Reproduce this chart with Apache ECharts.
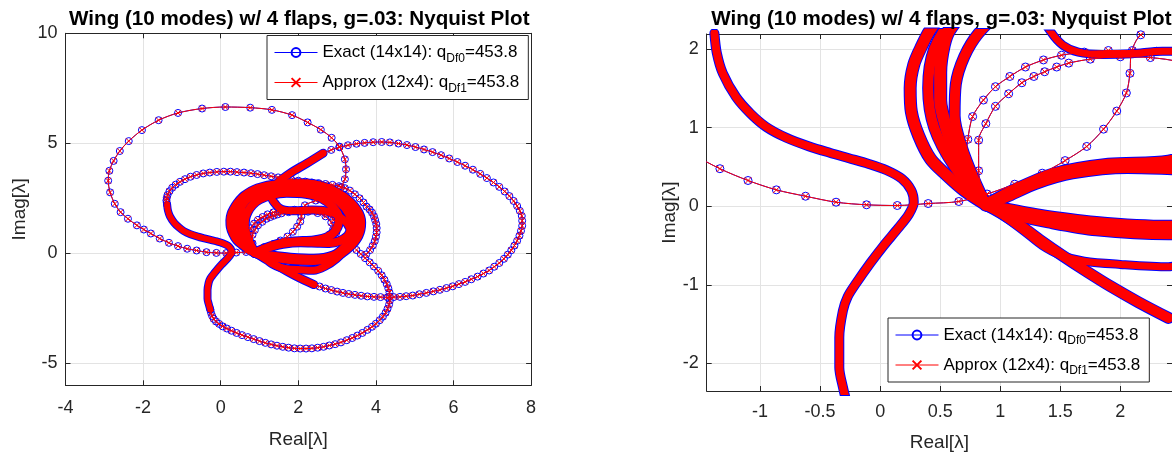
<!DOCTYPE html>
<html>
<head>
<meta charset="utf-8">
<title>Nyquist Plot</title>
<script src="https://cdn.jsdelivr.net/npm/echarts@6/dist/echarts.min.js"></script>
<style>
html, body { margin: 0; padding: 0; background: #fff; }
#chart { width: 1172px; height: 457px; }
</style>
</head>
<body>
<div id="chart"></div>
<script>
// curve points, [real, imag]
const loopA = [[3.10,3.00],[2.80,2.66],[2.45,2.40],[2.17,2.18],[2.09,1.94],[2.08,1.69],[2.05,1.44],[1.97,1.21],[1.86,0.98],[1.72,0.76],[1.54,0.58],[1.35,0.42],[1.12,0.28],[0.89,0.155],[0.655,0.06],[0.40,0.034],[0.143,0.009],[-0.113,0.018],[-0.367,0.051],[-0.621,0.127],[-0.864,0.208],[-1.10,0.327],[-1.334,0.477],[-1.57,0.67],[-1.80,0.90],[-1.98,1.08],[-2.16,1.27],[-2.39,1.57],[-2.58,1.87],[-2.73,2.25],[-2.85,2.77],[-2.90,3.30],[-2.87,3.75],[-2.76,4.20],[-2.60,4.65],[-2.37,5.10],[-2.03,5.60],[-1.60,6.05],[-1.10,6.38],[-0.48,6.58],[0.12,6.65],[0.76,6.62],[1.32,6.52],[1.84,6.28],[2.24,5.95],[2.58,5.62],[2.86,5.25],[3.06,4.85],[3.20,4.27],[3.23,3.82],[3.20,3.37],[3.10,3.00]];
const loopB = [[2.40,-1.42],[2.55,-1.51],[2.70,-1.60],[2.85,-1.67],[3.00,-1.74],[3.15,-1.80],[3.30,-1.85],[3.46,-1.89],[3.62,-1.93],[3.78,-1.96],[3.95,-1.98],[4.12,-1.99],[4.30,-2.00],[4.46,-1.99],[4.62,-1.98],[4.78,-1.95],[4.95,-1.92],[5.12,-1.86],[5.30,-1.80],[5.48,-1.73],[5.65,-1.66],[5.82,-1.58],[5.98,-1.50],[6.14,-1.40],[6.30,-1.30],[6.46,-1.18],[6.62,-1.06],[6.77,-0.92],[6.92,-0.78],[7.05,-0.61],[7.18,-0.44],[7.30,-0.25],[7.40,-0.06],[7.49,0.14],[7.57,0.35],[7.64,0.57],[7.70,0.80],[7.74,1.02],[7.77,1.25],[7.77,1.48],[7.76,1.70],[7.71,1.93],[7.64,2.15],[7.55,2.38],[7.44,2.60],[7.32,2.81],[7.18,3.02],[7.03,3.22],[6.86,3.42],[6.69,3.61],[6.50,3.80],[6.30,3.98],[6.10,4.15],[5.89,4.31],[5.68,4.46],[5.46,4.60],[5.24,4.72],[5.02,4.83],[4.80,4.92],[4.58,4.99],[4.36,5.04],[4.15,5.06],[3.93,5.05],[3.71,5.02],[3.50,4.98],[3.28,4.91],[3.06,4.82],[2.85,4.70],[2.64,4.55]];
const loopCTop = [[3.75,-0.05],[3.85,0.15],[3.92,0.35],[3.97,0.55],[4.00,0.75],[4.02,0.95],[4.02,1.15],[4.01,1.33],[3.98,1.51],[3.95,1.68],[3.90,1.85],[3.84,1.99],[3.76,2.12],[3.68,2.31],[3.58,2.50],[3.46,2.68],[3.33,2.85],[3.20,2.96],[3.05,3.05],[2.88,3.11],[2.70,3.15],[2.52,3.19],[2.35,3.22],[2.18,3.26],[2.00,3.30],[1.82,3.35],[1.65,3.40],[1.48,3.45],[1.30,3.50],[1.12,3.55],[0.95,3.60],[0.78,3.64],[0.60,3.67],[0.42,3.69],[0.25,3.71],[0.08,3.71],[-0.10,3.70],[-0.28,3.67],[-0.45,3.63],[-0.62,3.56],[-0.78,3.48],[-0.92,3.37],[-1.05,3.25],[-1.16,3.12],[-1.25,2.98],[-1.32,2.82],[-1.37,2.65],[-1.39,2.52],[-1.40,2.40],[-1.39,2.30],[-1.38,2.20]];
const loopDBot = [[-0.27,-2.55],[-0.25,-2.70],[-0.22,-2.85],[-0.18,-2.98],[-0.12,-3.10],[-0.04,-3.21],[0.05,-3.32],[0.16,-3.42],[0.28,-3.52],[0.41,-3.62],[0.55,-3.72],[0.70,-3.81],[0.85,-3.90],[1.00,-3.99],[1.15,-4.07],[1.30,-4.14],[1.45,-4.20],[1.60,-4.25],[1.75,-4.29],[1.90,-4.32],[2.05,-4.33],[2.20,-4.33],[2.35,-4.32],[2.50,-4.29],[2.65,-4.25],[2.80,-4.19],[2.95,-4.13],[3.10,-4.05],[3.25,-3.95],[3.39,-3.85],[3.52,-3.74],[3.65,-3.62],[3.78,-3.48],[3.90,-3.34],[4.00,-3.20],[4.10,-3.04],[4.18,-2.88],[4.25,-2.70],[4.30,-2.52],[4.34,-2.33],[4.36,-2.15],[4.36,-1.96],[4.35,-1.78],[4.32,-1.59],[4.28,-1.40],[4.22,-1.20],[4.15,-1.00],[4.06,-0.80],[3.95,-0.60],[3.84,-0.41],[3.72,-0.22],[3.61,-0.03],[3.50,0.15]];
const chainU4a = [[0.88,0.02],[0.76,0.28],[0.71,0.54],[0.73,0.85],[0.77,1.14],[0.86,1.35],[0.96,1.52],[1.08,1.65],[1.21,1.77],[1.36,1.86],[1.51,1.92],[1.70,1.96],[1.90,1.98],[2.10,1.98],[2.30,1.97],[2.50,1.92],[2.72,1.80],[2.90,1.55],[3.00,1.25],[2.98,0.95],[2.80,0.70]];
const chainU4b = [[0.88,0.02],[0.82,0.45],[0.82,0.84],[0.88,1.05],[0.96,1.27],[1.07,1.43],[1.18,1.57],[1.28,1.65],[1.37,1.71],[1.47,1.77],[1.57,1.82],[1.75,1.87],[2.00,1.90],[2.25,1.89],[2.50,1.83],[2.70,1.68],[2.85,1.40],[2.90,1.10],[2.80,0.85]];
const bandL3 = [[0.88,0.02],[1.02,-0.10],[1.18,-0.26],[1.34,-0.44],[1.51,-0.62],[1.72,-0.83],[1.92,-1.02],[2.15,-1.22],[2.40,-1.42]];
const bandB2 = [[2.64,4.55],[2.22,4.09],[1.79,3.64],[1.50,3.25],[1.33,2.85],[1.32,2.50],[1.42,2.22],[1.52,2.05],[1.65,1.96],[1.85,1.93],[2.10,1.94],[2.35,1.97],[2.60,1.96],[2.90,1.82],[3.15,1.55],[3.32,1.15],[3.35,0.70],[3.22,0.20],[2.98,-0.25],[2.70,-0.58],[2.40,-0.77],[2.00,-0.74],[1.70,-0.70],[1.50,-0.62],[1.35,-0.50],[1.20,-0.32],[1.05,-0.15],[0.88,0.02]];
const bandS = [[-1.38,2.20],[-1.36,1.95],[-1.31,1.69],[-1.20,1.39],[-1.08,1.18],[-0.95,1.01],[-0.78,0.87],[-0.59,0.76],[-0.42,0.68],[-0.26,0.61],[-0.10,0.54],[0.05,0.46],[0.18,0.35],[0.26,0.20],[0.28,0.05],[0.24,-0.10],[0.15,-0.28],[0.03,-0.50],[-0.08,-0.72],[-0.20,-0.98],[-0.27,-1.15],[-0.31,-1.33],[-0.34,-1.67],[-0.34,-2.05],[-0.31,-2.30],[-0.27,-2.55]];
const ring1 = [[0.88,0.02],[0.70,0.20],[0.55,0.40],[0.42,0.60],[0.32,0.90],[0.26,1.20],[0.25,1.50],[0.28,1.80],[0.35,2.05],[0.42,2.25],[0.60,2.60],[0.95,2.95],[1.50,3.15],[2.10,3.18],[2.70,3.00],[3.15,2.60],[3.50,2.00],[3.62,1.40],[3.55,0.80],[3.30,0.25],[2.95,-0.15],[2.40,-0.35],[1.80,-0.30],[1.40,-0.20],[1.10,-0.10],[0.88,0.02]];
const ring2 = [[0.88,0.02],[0.75,0.30],[0.63,0.65],[0.55,1.00],[0.50,1.35],[0.50,1.70],[0.53,2.05],[0.58,2.25],[0.75,2.55],[1.05,2.80],[1.55,2.95],[2.10,2.95],[2.65,2.75],[3.05,2.35],[3.30,1.80],[3.38,1.25],[3.28,0.80],[3.05,0.55],[2.80,0.47],[2.50,0.48],[2.06,0.50],[1.60,0.43],[1.30,0.30],[1.05,0.13],[0.88,0.02]];
const ring3 = [[0.88,0.02],[0.78,0.35],[0.68,0.75],[0.62,1.15],[0.63,1.55],[0.70,1.90],[0.82,2.20],[1.00,2.45],[1.30,2.65],[1.70,2.75],[2.20,2.70],[2.60,2.50],[2.90,2.10],[3.05,1.60],[3.00,1.15],[2.80,0.78],[2.40,0.58],[1.90,0.54],[1.45,0.42],[1.10,0.20],[0.88,0.02]];
const ring4 = [[0.88,0.02],[0.62,0.50],[0.45,1.00],[0.40,1.50],[0.45,2.00],[0.62,2.40],[0.95,2.75],[1.45,2.98],[2.00,3.05],[2.55,2.90],[3.00,2.55],[3.30,2.00],[3.45,1.40],[3.40,0.85],[3.20,0.30],[2.90,-0.10],[2.40,-0.25],[1.80,-0.20],[1.30,-0.10],[0.88,0.02]];

const beadedPaths = [loopA, loopB, loopCTop, loopDBot, chainU4a, chainU4b];
const bandPaths = [bandL3, bandB2, bandS, ring1, ring2, ring3, ring4];
// red band width in each panel [left, right]
const bandWidths = [[7, 10], [7, 7], [6, 8], [8, 11], [8, 12], [8, 10], [8, 10]];

// axis ranges and tick steps, [min, max, step]
const leftX = [-4, 8, 2];
const leftY = [-6, 10, 5];
const rightX = [-1.444, 2.43, 0.5];
const rightY = [-2.35, 2.19, 1];

const titleText = 'Wing (10 modes) w/ 4 flaps, g=.03: Nyquist Plot';
const legendNames = ['Exact', 'Approx'];
const legendText = {
    Exact: 'Exact (14x14): q{s|Df0}=453.8',
    Approx: 'Approx (12x4): q{s|Df1}=453.8'
};

const FONT = '"Liberation Sans", Arial, sans-serif';
const INK = '#262626';
const xMark = 'path://M0,0L10,10M10,0L0,10';

const grids = [
    {left: 65.5, top: 33.3, width: 465.6, height: 352, mark: 7, xr: leftX, yr: leftY, xMargin: 14, xGap: 45, yGap: 36},
    {left: 706.7, top: 34, width: 467.3, height: 357, mark: 8, xr: rightX, yr: rightY, xMargin: 12, xGap: 42, yGap: 25}
];

function makeAxis(g, dim, r, mirror){
    const nice = (v) => Math.abs(v / r[2] - Math.round(v / r[2])) < 1e-9;
    const ax = {
        type: 'value', gridIndex: g,
        position: dim === 'x' ? (mirror ? 'top' : 'bottom') : (mirror ? 'right' : 'left'),
        min: r[0], max: r[1], minInterval: r[2], maxInterval: r[2], splitNumber: 5,
        axisLine: {show: true, onZero: false, lineStyle: {color: INK, width: 1}},
        axisTick: {show: true, inside: true, length: 5, lineStyle: {color: INK}},
        axisLabel: {show: !mirror, fontSize: 18, color: INK, fontFamily: FONT,
            margin: dim === 'x' ? grids[g].xMargin : 8,
            showMinLabel: nice(r[0]), showMaxLabel: nice(r[1])},
        splitLine: {show: !mirror, lineStyle: {color: '#e3e3e3', width: 1}}
    };
    if (!mirror){
        ax.name = dim === 'x' ? 'Real[λ]' : 'Imag[λ]';
        ax.nameLocation = 'middle';
        ax.nameGap = dim === 'x' ? grids[g].xGap : grids[g].yGap;
        ax.nameTextStyle = {fontSize: 19, color: INK, fontFamily: FONT};
    }
    return ax;
}

const xAxes = [], yAxes = [];
grids.forEach((gr, g) => {
    xAxes.push(makeAxis(g, 'x', gr.xr, false), makeAxis(g, 'x', gr.xr, true));
    yAxes.push(makeAxis(g, 'y', gr.yr, false), makeAxis(g, 'y', gr.yr, true));
});

function lineSeries(g, data, exact, bandW){
    const color = exact ? '#0000ff' : '#ff0000';
    const s = {
        type: 'line', name: exact ? 'Exact' : 'Approx',
        xAxisIndex: g * 2, yAxisIndex: g * 2, data: data,
        smooth: 0.3, z: exact ? 2 : 3, silent: true, animation: false,
        emphasis: {disabled: true}
    };
    if (bandW){
        s.symbol = 'none';
        s.lineStyle = {color: color, width: bandW + (exact ? 2 : 0), cap: 'round', join: 'round'};
    } else {
        s.symbol = exact ? 'circle' : xMark;
        s.symbolSize = exact ? grids[g].mark : grids[g].mark - 1.5;
        s.itemStyle = {color: 'rgba(0,0,0,0)', borderColor: color, borderWidth: 1};
        s.lineStyle = {color: color, width: 1};
    }
    return s;
}

const series = [];
[true, false].forEach(exact => {
    grids.forEach((gr, g) => {
        beadedPaths.forEach(p => series.push(lineSeries(g, p, exact, 0)));
        bandPaths.forEach((p, i) => series.push(lineSeries(g, p, exact, bandWidths[i][g])));
    });
});

function legendBox(left, top){
    return {
        data: legendNames, left: left, top: top, orient: 'vertical',
        itemWidth: 43, itemHeight: 11, itemGap: 6,
        padding: [5, 9, 5, 7],
        borderColor: INK, borderWidth: 1, backgroundColor: '#fff',
        selectedMode: false,
        lineStyle: {width: 1},
        formatter: (name) => legendText[name],
        textStyle: {fontSize: 17, color: '#000', fontFamily: FONT, lineHeight: 24,
            rich: {s: {fontSize: 12, fontFamily: FONT, lineHeight: 12, verticalAlign: 'bottom'}}}
    };
}

const chart = echarts.init(document.getElementById('chart'));
chart.setOption({
    backgroundColor: '#fff',
    animation: false,
    textStyle: {fontFamily: FONT},
    // titles sit a little left of the axes centre, as in the picture
    title: grids.map(gr => ({
        text: titleText, left: gr.left + gr.width / 2 - 4, top: 4, textAlign: 'center',
        textStyle: {fontSize: 20.6, fontWeight: 'bold', color: '#000', fontFamily: FONT}
    })),
    legend: [legendBox(267, 35.5), legendBox(888, 318)],
    grid: grids.map(gr => ({left: gr.left, top: gr.top, width: gr.width, height: gr.height})),
    xAxis: xAxes,
    yAxis: yAxes,
    series: series
});
</script>
</body>
</html>
